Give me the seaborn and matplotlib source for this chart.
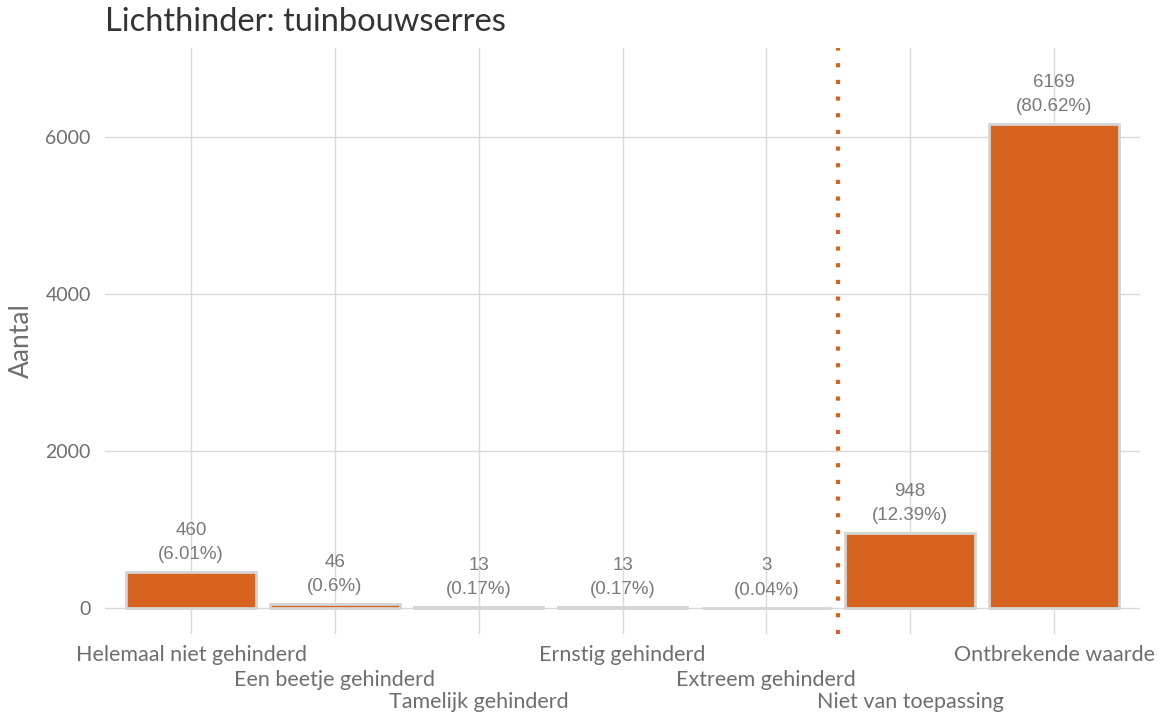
import numpy as np
import pandas as pd
import matplotlib
matplotlib.use("Agg")
import matplotlib.pyplot as plt
import seaborn as sns

# data
categories = ["Helemaal niet gehinderd", "Een beetje gehinderd", "Tamelijk gehinderd",
              "Ernstig gehinderd", "Extreem gehinderd", "Niet van toepassing",
              "Ontbrekende waarde"]
counts = [460, 46, 13, 13, 3, 948, 6169]

total = sum(counts)
pcts = [round(100 * c / total, 2) for c in counts]

df = pd.DataFrame({"categorie": categories, "aantal": counts})

orange = "#D6641F"
sns.set_style("white")
plt.rcParams["font.family"] = ["Lato", "DejaVu Sans"]

fig = plt.figure(figsize=(11.61, 7.18), dpi=100)
ax = fig.add_axes([0.0902, 0.117, 0.892, 0.816])

sns.barplot(data=df, x="categorie", y="aantal", color=orange, saturation=1,
            edgecolor="#d4d4d4", linewidth=2, width=0.9, ax=ax, zorder=3)

for i, (c, p) in enumerate(zip(counts, pcts)):
    ax.annotate(f"{c}\n({p:g}%)", (i, c), xytext=(0, 9), textcoords="offset pixels",
                ha="center", va="bottom", fontsize=13.5, color="#7a7a7a",
                fontfamily="Liberation Sans", linespacing=1.55, zorder=4)

ax.axvline(4.5, color=orange, linestyle=(0, (1, 3)), linewidth=3, zorder=5)

ax.set_xlim(-0.6, 6.6)
ax.set_ylim(-335, 7140)
ax.set_yticks([0, 2000, 4000, 6000])
ax.grid(True, color="#d9d9d9", linewidth=1, zorder=0)
ax.set_axisbelow(True)
for s in ax.spines.values():
    s.set_visible(False)

ax.set_xticks(range(len(categories)))
ax.set_xticklabels(categories)
ax.tick_params(axis="both", length=0, labelcolor="#6e6e6e")
ax.tick_params(axis="x", labelsize=15.5)
ax.tick_params(axis="y", labelsize=14, pad=10)
# staggered labels in three rows
row_pads = [8, 26, 42]
for i, t in enumerate(ax.xaxis.get_major_ticks()):
    t.set_pad(row_pads[i % 3])

ax.set_xlabel("")
ax.set_ylabel("Aantal", fontsize=19, color="#6e6e6e", labelpad=8)
ax.set_title("Lichthinder: tuinbouwserres", loc="left", fontsize=23.5,
             color="#333333", pad=12)

fig.savefig("out.png", dpi=100)
